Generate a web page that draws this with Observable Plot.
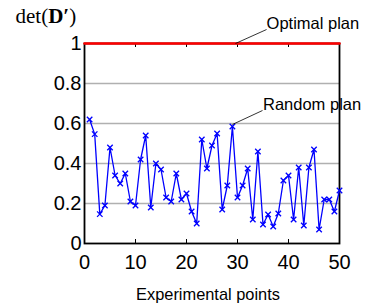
<!DOCTYPE html>
<html><head><meta charset="utf-8">
<script src="https://cdn.jsdelivr.net/npm/d3@7"></script>
<script src="https://cdn.jsdelivr.net/npm/@observablehq/plot@0.6"></script>
<style>body{margin:0;background:#fff}</style>
</head><body><div id="chart"></div>
<script>
const randomPlan = [0.62,0.547,0.147,0.19,0.48,0.34,0.30,0.35,0.21,0.19,
  0.42,0.54,0.18,0.40,0.37,0.23,0.21,0.35,0.22,0.25,
  0.16,0.10,0.52,0.375,0.49,0.55,0.17,0.29,0.585,0.23,
  0.29,0.375,0.12,0.46,0.095,0.145,0.085,0.15,0.315,0.34,
  0.12,0.38,0.09,0.38,0.47,0.07,0.22,0.22,0.16,0.265];
const optimalX = [0, 50];
const optimalY = [1, 1];
const xTicks = [0, 10, 20, 30, 40, 50];
const xInnerTicks = [10, 20, 30, 40];
const yTicks = [0, 0.2, 0.4, 0.6, 0.8, 1];
const yTickLabels = ["0", "0.2", "0.4", "0.6", "0.8", "1"];
const gridY = [0.2, 0.4, 0.6, 0.8];
const annotations = [
  {label: "Optimal plan", x: 35.7, y: 1.075, x1: 35.7, y1: 1.07, x2: 29.6, y2: 1.0},
  {label: "Random plan", x: 35.0, y: 0.67, x1: 34.9, y1: 0.665, x2: 29.0, y2: 0.595}
];

const randomData = randomPlan.map((v, i) => ({x: i + 1, y: v}));
const optimalData = optimalX.map((x, i) => ({x, y: optimalY[i]}));

const chart = Plot.plot({
  width: 370, height: 306,
  marginLeft: 84, marginRight: 31, marginTop: 43, marginBottom: 63,
  style: {fontFamily: "'Liberation Sans', Arial, sans-serif", background: "#fff", overflow: "visible"},
  x: {domain: [0, 50], ticks: xTicks},
  y: {domain: [0, 1], ticks: yTicks},
  marks: [
    Plot.ruleY(gridY, {stroke: "#b0b0b0", strokeWidth: 1.4}),
    Plot.ruleX(xInnerTicks, {y1: 0, y2: 0.02, stroke: "#000", strokeWidth: 1}),
    Plot.ruleX(xInnerTicks, {y1: 0.98, y2: 1, stroke: "#000", strokeWidth: 1}),
    Plot.frame({stroke: "#000", strokeWidth: 1.8}),
    Plot.line(randomData, {x: "x", y: "y", stroke: "#0000ff", strokeWidth: 1.3}),
    Plot.dot(randomData, {x: "x", y: "y", symbol: "times", r: 2.6, stroke: "#0000ff", strokeWidth: 1.3}),
    Plot.line(optimalData, {x: "x", y: "y", stroke: "#ff0000", strokeWidth: 2.6}),
    Plot.axisX(xTicks, {tickSize: 0, tickPadding: 11, fontSize: 20, label: null, fill: "#000"}),
    Plot.axisY(yTicks, {tickSize: 0, tickPadding: 3, fontSize: 20, label: null, fill: "#000",
      tickFormat: (d) => yTickLabels[yTicks.indexOf(d)]}),
    Plot.link(annotations, {x1: "x1", y1: "y1", x2: "x2", y2: "y2", stroke: "#000", strokeWidth: 0.8, clip: false}),
    Plot.text(annotations, {x: "x", y: "y", text: "label", textAnchor: "start", lineAnchor: "bottom", fontSize: 16.5, fill: "#000", clip: false}),
    Plot.text(["Experimental points"], {frameAnchor: "bottom", dx: -4, dy: 56, lineAnchor: "bottom", fontSize: 16.4, fill: "#000"}),
    Plot.text(["det(D′)"], {frameAnchor: "top-left", dx: -69, dy: -21, lineAnchor: "bottom", textAnchor: "start",
      fontSize: 21, fill: "#000", fontFamily: "'Liberation Serif', 'Times New Roman', serif", className: "ttl"})
  ]
});
document.getElementById("chart").appendChild(chart);
// bold D in title
d3.select(chart).selectAll("text").filter(function(){ return this.textContent === "det(D′)"; })
  .each(function(){
    const t = d3.select(this);
    t.text(null);
    t.append("tspan").text("det(");
    t.append("tspan").attr("font-weight", "bold").text("D′");
    t.append("tspan").text(")");
  });
</script>
</body></html>
